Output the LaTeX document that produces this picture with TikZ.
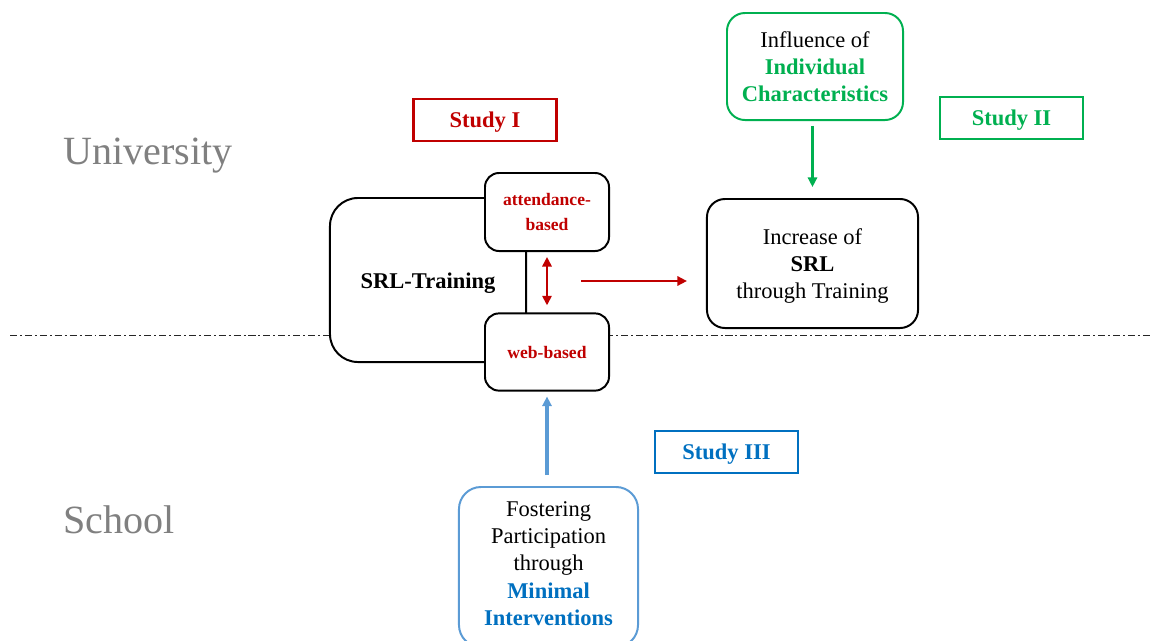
\documentclass[tikz,border=0pt]{standalone}
\usepackage{fontspec}
\setmainfont{Liberation Serif}
\usetikzlibrary{positioning,arrows.meta,calc}
\definecolor{srlred}{RGB}{192,0,0}
\definecolor{srlgreen}{RGB}{0,176,80}
\definecolor{srlblue}{RGB}{0,112,192}
\definecolor{paleblue}{RGB}{91,155,213}
\definecolor{placegray}{RGB}{128,128,128}
\newcommand{\bigtxt}{\fontsize{16}{19.5}\selectfont}
\newcommand{\smalltxt}{\fontsize{12.5}{18}\selectfont}

\begin{document}
\begin{tikzpicture}[x=0.025cm,y=-0.025cm,line width=1.4pt,
    box/.style={draw,fill=white,align=center,rounded corners=0.45cm,font=\bigtxt},
    studybox/.style={draw,line width=1.6pt,minimum width=3.58cm,minimum height=1.05cm,text depth=-2pt,font=\bigtxt\bfseries},
    tip/.style={-{Triangle[length=2.4mm,width=2.3mm]}}]
  \useasboundingbox (0,0) rectangle (1152,640);
  % border between the two settings
  \draw[line width=0.6pt,black!85,dash pattern=on 5pt off 2.1pt on 1.4pt off 2.1pt] (10,335) -- (1150,335);
  \node[placegray,anchor=west,font=\fontsize{28.5}{30}\selectfont] (uni) at (58,156) {University};
  \node[placegray,anchor=west,font=\fontsize{28.5}{30}\selectfont] (school) at (58,520) {School};

  % the training and its two variants
  \node[box,rounded corners=0.7cm,minimum width=4.9cm,minimum height=4.1cm,text height=15pt,text depth=3.5pt,font=\bigtxt\bfseries] (srl) at (428,280) {SRL-Training};
  \node[box,rounded corners=0.35cm,minimum width=3.1cm,minimum height=1.95cm,font=\smalltxt\bfseries,text=srlred] (att) at (547,212) {attendance-\\based};
  \node[box,rounded corners=0.35cm,minimum width=3.1cm,minimum height=1.93cm,font=\smalltxt\bfseries,text=srlred] (web) at (547,352) {web-based};
  \draw[{Triangle[length=2.4mm,width=2.3mm]}-{Triangle[length=2.4mm,width=2.3mm]},srlred,line width=2pt,shorten <=3.5pt,shorten >=5pt] (att.south) -- (web.north);

  \node[box,minimum width=5.275cm,minimum height=3.225cm,text depth=-4pt] (incr) at (812.5,263.5) {Increase of\\\textbf{SRL}\\through Training};
  \coordinate (redfrom) at (581,281);
  \draw[tip,srlred,line width=2pt,shorten >=13.5pt] (redfrom) -- (incr.west |- redfrom);

  % study II
  \node[box,draw=srlgreen,minimum width=4.4cm,minimum height=2.675cm,text depth=-2pt] (infl) at (815,66.5) {Influence of\\\textcolor{srlgreen}{\textbf{Individual}}\\\textcolor{srlgreen}{\textbf{Characteristics}}};
  \draw[tip,srlgreen,line width=1.6pt,shorten <=3.5pt,shorten >=7.8pt] (infl.south -| incr.north) -- (incr.north);

  % study III
  \node[box,draw=paleblue,rounded corners=0.55cm,minimum width=4.475cm,minimum height=4.0cm,text depth=5pt] (fost) at (548.5,567) {Fostering\\Participation\\through\\\textcolor{srlblue}{\textbf{Minimal}}\\\textcolor{srlblue}{\textbf{Interventions}}};
  \draw[tip,paleblue,line width=2.2pt,shorten <=7.8pt,shorten >=3.5pt] (fost.north -| web.south) -- (web.south);

  \node[studybox,draw=srlred,text=srlred] (s1) at (485,120) {Study I};
  \node[studybox,draw=srlgreen,text=srlgreen] (s2) at (1011.5,118) {Study II};
  \node[studybox,draw=srlblue,text=srlblue] (s3) at (726.5,452) {Study III};
\end{tikzpicture}
\end{document}
